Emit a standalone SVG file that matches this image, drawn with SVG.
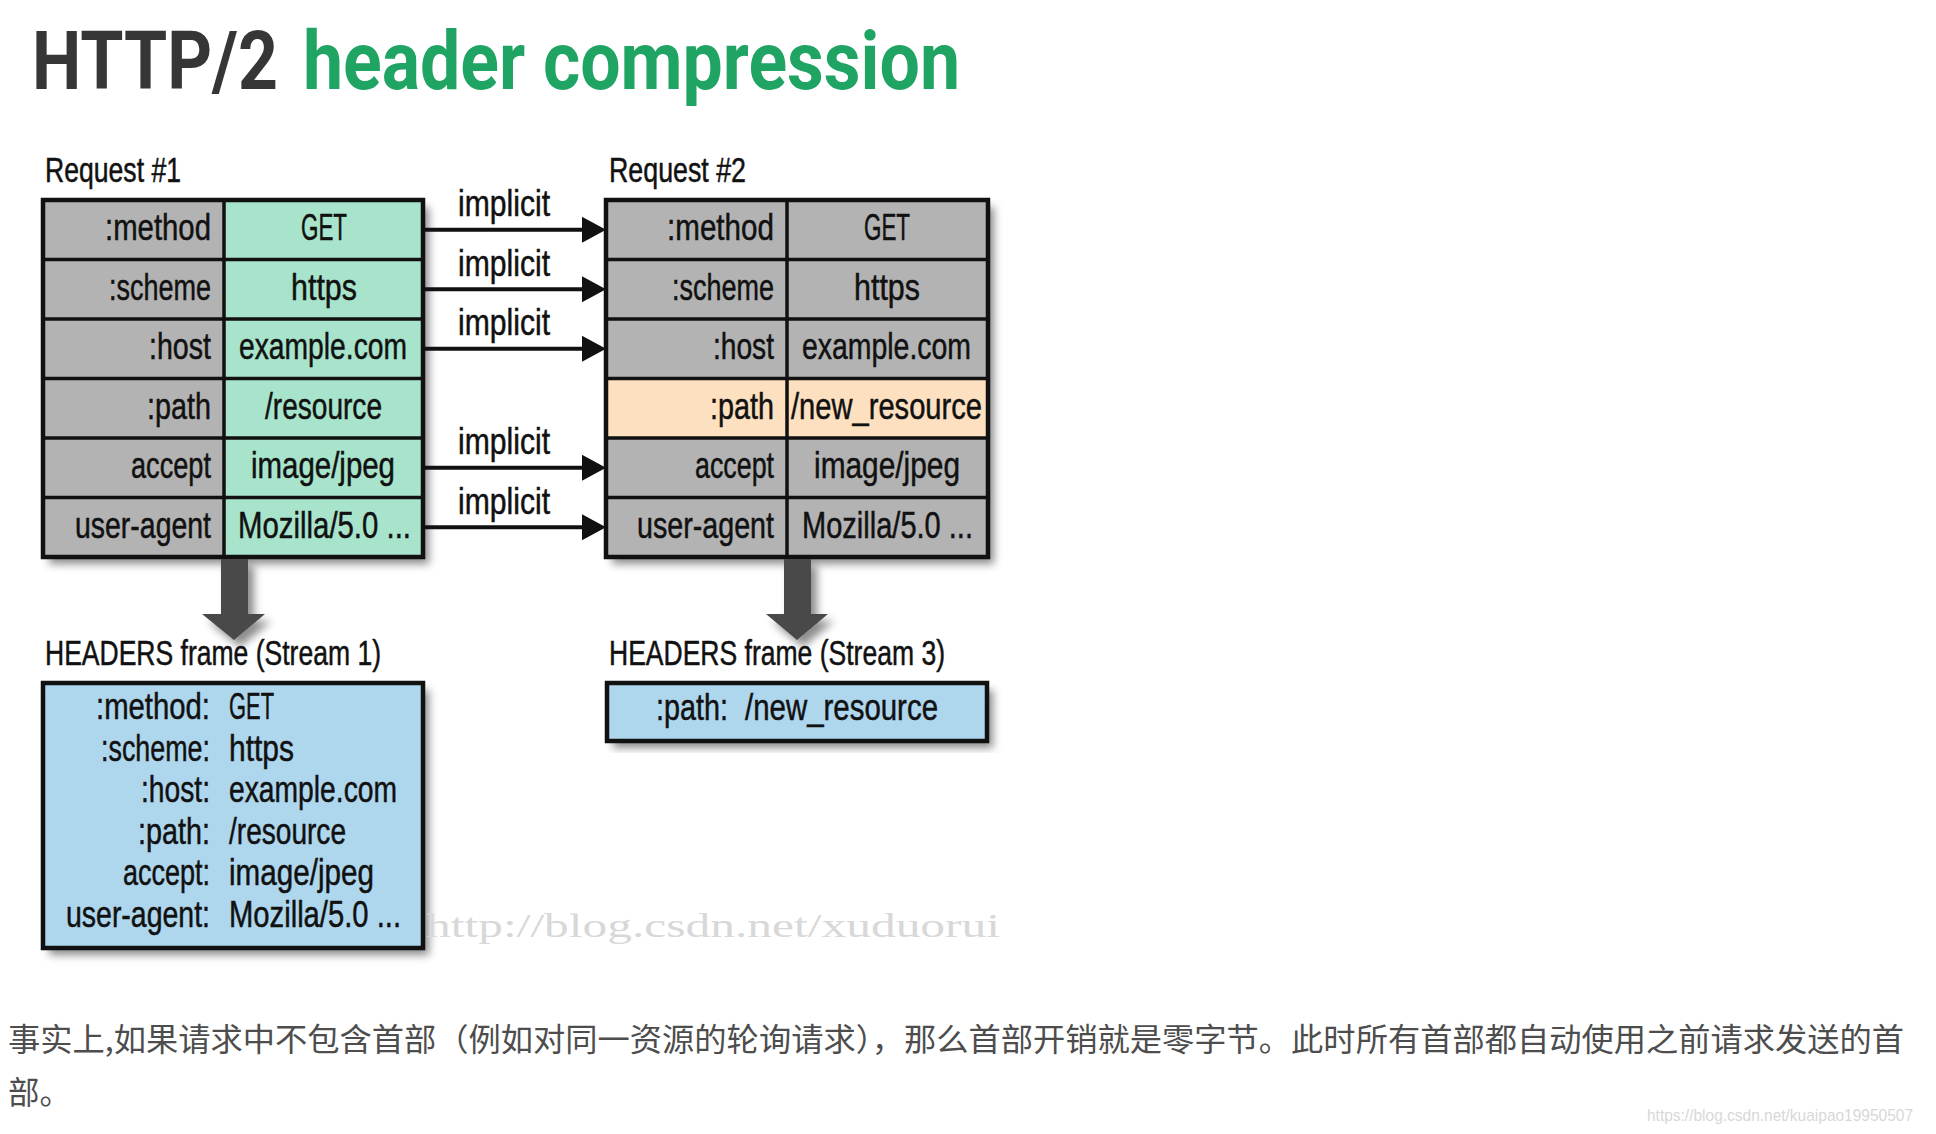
<svg xmlns="http://www.w3.org/2000/svg" width="1936" height="1134" viewBox="0 0 1936 1134">
<defs>
<filter id="sh" x="-10%" y="-10%" width="130%" height="130%">
<feDropShadow dx="6" dy="7" stdDeviation="4" flood-color="#000" flood-opacity="0.45"/>
</filter>
<style>
.t{font-family:"Liberation Sans",Arial,sans-serif;font-size:37px;fill:#111;stroke:#111;stroke-width:0.5px;}
.lb{font-family:"Liberation Sans",Arial,sans-serif;font-size:35px;fill:#111;stroke:#111;stroke-width:0.5px;}
.im{font-family:"Liberation Sans",Arial,sans-serif;font-size:36px;fill:#111;stroke:#111;stroke-width:0.5px;}
.g{fill:#b3b3b3;}
.gr{fill:#a7e4cb;}
.or{fill:#fde0bf;}
.bl{fill:#aed7ee;}
.grid{stroke:#111;stroke-width:3.5;fill:none;}
.out{stroke:#111;stroke-width:4.5;fill:none;}
.arr{stroke:#111;stroke-width:4;fill:none;}
.head{fill:#111;}
.big{fill:#4a4a4a;}
</style>
</defs>
<rect width="1936" height="1134" fill="#fff"/>

<g id="title">
<text x="32" y="89" font-family="Roboto,'Liberation Sans',sans-serif" font-weight="700" font-size="82" fill="#363636" textLength="246" lengthAdjust="spacingAndGlyphs">HTTP/2</text>
<text x="303" y="89" font-family="Roboto,'Liberation Sans',sans-serif" font-weight="700" font-size="82" fill="#1fa463" textLength="657" lengthAdjust="spacingAndGlyphs">header compression</text>
</g>

<g id="request1">
<text class="lb" x="45" y="182" textLength="136" lengthAdjust="spacingAndGlyphs">Request #1</text>
<g filter="url(#sh)">
<rect class="g" x="43" y="200" width="181" height="357"/>
<rect class="gr" x="224" y="200" width="199" height="357"/>
</g>
<path class="grid" d="M43 259.5H423M43 319H423M43 378.5H423M43 438H423M43 497.5H423M224 200V557"/>
<rect class="out" x="43" y="200" width="380" height="357"/>
<text class="t" x="105" y="240" textLength="106" lengthAdjust="spacingAndGlyphs">:method</text>
<text class="t" x="109" y="299.5" textLength="102" lengthAdjust="spacingAndGlyphs">:scheme</text>
<text class="t" x="149" y="359" textLength="62" lengthAdjust="spacingAndGlyphs">:host</text>
<text class="t" x="147" y="418.5" textLength="64" lengthAdjust="spacingAndGlyphs">:path</text>
<text class="t" x="131" y="478" textLength="80" lengthAdjust="spacingAndGlyphs">accept</text>
<text class="t" x="75" y="537.5" textLength="136" lengthAdjust="spacingAndGlyphs">user-agent</text>
<text class="t" x="301" y="240" textLength="46" lengthAdjust="spacingAndGlyphs">GET</text>
<text class="t" x="291" y="299.5" textLength="66" lengthAdjust="spacingAndGlyphs">https</text>
<text class="t" x="239" y="359" textLength="168" lengthAdjust="spacingAndGlyphs">example.com</text>
<text class="t" x="265" y="418.5" textLength="117" lengthAdjust="spacingAndGlyphs">/resource</text>
<text class="t" x="251" y="478" textLength="144" lengthAdjust="spacingAndGlyphs">image/jpeg</text>
<text class="t" x="238" y="537.5" textLength="173" lengthAdjust="spacingAndGlyphs">Mozilla/5.0 ...</text>
</g>

<g id="request2">
<text class="lb" x="609" y="182" textLength="137" lengthAdjust="spacingAndGlyphs">Request #2</text>
<g filter="url(#sh)">
<rect class="g" x="606" y="200" width="382" height="357"/>
</g>
<rect class="or" x="606" y="378.5" width="382" height="59.5"/>
<path class="grid" d="M606 259.5H988M606 319H988M606 378.5H988M606 438H988M606 497.5H988M787 200V557"/>
<rect class="out" x="606" y="200" width="382" height="357"/>
<text class="t" x="667" y="240" textLength="107" lengthAdjust="spacingAndGlyphs">:method</text>
<text class="t" x="672" y="299.5" textLength="102" lengthAdjust="spacingAndGlyphs">:scheme</text>
<text class="t" x="713" y="359" textLength="61" lengthAdjust="spacingAndGlyphs">:host</text>
<text class="t" x="710" y="418.5" textLength="64" lengthAdjust="spacingAndGlyphs">:path</text>
<text class="t" x="695" y="478" textLength="79" lengthAdjust="spacingAndGlyphs">accept</text>
<text class="t" x="637" y="537.5" textLength="137" lengthAdjust="spacingAndGlyphs">user-agent</text>
<text class="t" x="864" y="240" textLength="46" lengthAdjust="spacingAndGlyphs">GET</text>
<text class="t" x="854" y="299.5" textLength="66" lengthAdjust="spacingAndGlyphs">https</text>
<text class="t" x="802" y="359" textLength="169" lengthAdjust="spacingAndGlyphs">example.com</text>
<text class="t" x="791" y="418.5" textLength="191" lengthAdjust="spacingAndGlyphs">/new_resource</text>
<text class="t" x="814" y="478" textLength="146" lengthAdjust="spacingAndGlyphs">image/jpeg</text>
<text class="t" x="802" y="537.5" textLength="171" lengthAdjust="spacingAndGlyphs">Mozilla/5.0 ...</text>
</g>

<g id="frame1">
<text class="lb" x="45" y="665" textLength="336" lengthAdjust="spacingAndGlyphs">HEADERS frame (Stream 1)</text>
<rect class="bl" x="43" y="683" width="380" height="265" filter="url(#sh)"/>
<rect class="out" x="43" y="683" width="380" height="265"/>
<text class="t" x="96" y="719"><tspan textLength="114" lengthAdjust="spacingAndGlyphs">:method:</tspan><tspan dx="19" textLength="45" lengthAdjust="spacingAndGlyphs">GET</tspan></text>
<text class="t" x="101" y="760.5"><tspan textLength="109" lengthAdjust="spacingAndGlyphs">:scheme:</tspan><tspan dx="19" textLength="65" lengthAdjust="spacingAndGlyphs">https</tspan></text>
<text class="t" x="141" y="802"><tspan textLength="69" lengthAdjust="spacingAndGlyphs">:host:</tspan><tspan dx="19" textLength="168" lengthAdjust="spacingAndGlyphs">example.com</tspan></text>
<text class="t" x="138" y="843.5"><tspan textLength="72" lengthAdjust="spacingAndGlyphs">:path:</tspan><tspan dx="19" textLength="117" lengthAdjust="spacingAndGlyphs">/resource</tspan></text>
<text class="t" x="123" y="885"><tspan textLength="87" lengthAdjust="spacingAndGlyphs">accept:</tspan><tspan dx="19" textLength="145" lengthAdjust="spacingAndGlyphs">image/jpeg</tspan></text>
<text class="t" x="66" y="926.5"><tspan textLength="144" lengthAdjust="spacingAndGlyphs">user-agent:</tspan><tspan dx="19" textLength="172" lengthAdjust="spacingAndGlyphs">Mozilla/5.0 ...</tspan></text>
</g>

<g id="frame2">
<text class="lb" x="609" y="665" textLength="336" lengthAdjust="spacingAndGlyphs">HEADERS frame (Stream 3)</text>
<rect class="bl" x="607" y="683" width="380" height="58" filter="url(#sh)"/>
<rect class="out" x="607" y="683" width="380" height="58"/>
<text class="t" x="656" y="720"><tspan textLength="72" lengthAdjust="spacingAndGlyphs">:path:</tspan><tspan dx="17" textLength="193" lengthAdjust="spacingAndGlyphs">/new_resource</tspan></text>
</g>

<g id="connectors">
<path class="arr" d="M425 229.75H586M425 289.25H586M425 348.75H586M425 467.75H586M425 527.25H586"/>
<path class="head" d="M582 216.75L606 229.75L582 242.75ZM582 276.25L606 289.25L582 302.25ZM582 335.75L606 348.75L582 361.75ZM582 454.75L606 467.75L582 480.75ZM582 514.25L606 527.25L582 540.25Z"/>
<text class="im" x="458" y="216" textLength="92" lengthAdjust="spacingAndGlyphs">implicit</text>
<text class="im" x="458" y="275.5" textLength="92" lengthAdjust="spacingAndGlyphs">implicit</text>
<text class="im" x="458" y="335" textLength="92" lengthAdjust="spacingAndGlyphs">implicit</text>
<text class="im" x="458" y="454" textLength="92" lengthAdjust="spacingAndGlyphs">implicit</text>
<text class="im" x="458" y="513.5" textLength="92" lengthAdjust="spacingAndGlyphs">implicit</text>
<g filter="url(#sh)">
<path class="big" d="M221 559H248V614H265L234 640L202 614H221Z"/>
<path class="big" d="M784 559H811V614H828L797 640L766 614H784Z"/>
</g>
</g>

<text x="426" y="937" font-family="'Liberation Serif',serif" font-size="34" fill="#d8d8d8" textLength="574" lengthAdjust="spacingAndGlyphs">http://blog.csdn.net/xuduorui</text>

<g id="caption" font-family="'Noto Sans CJK SC','Noto Sans CJK JP',sans-serif" font-size="31.5" fill="#4d4d4d">
<text x="8" y="1051" textLength="1896" lengthAdjust="spacingAndGlyphs">事实上,如果请求中不包含首部（例如对同一资源的轮询请求），那么首部开销就是零字节。此时所有首部都自动使用之前请求发送的首</text>
<text x="8" y="1104">部。</text>
</g>
<text x="1647" y="1121" font-family="'Liberation Sans',Arial,sans-serif" font-size="17" fill="#d8d8d8" textLength="266" lengthAdjust="spacingAndGlyphs">https://blog.csdn.net/kuaipao19950507</text>
</svg>
